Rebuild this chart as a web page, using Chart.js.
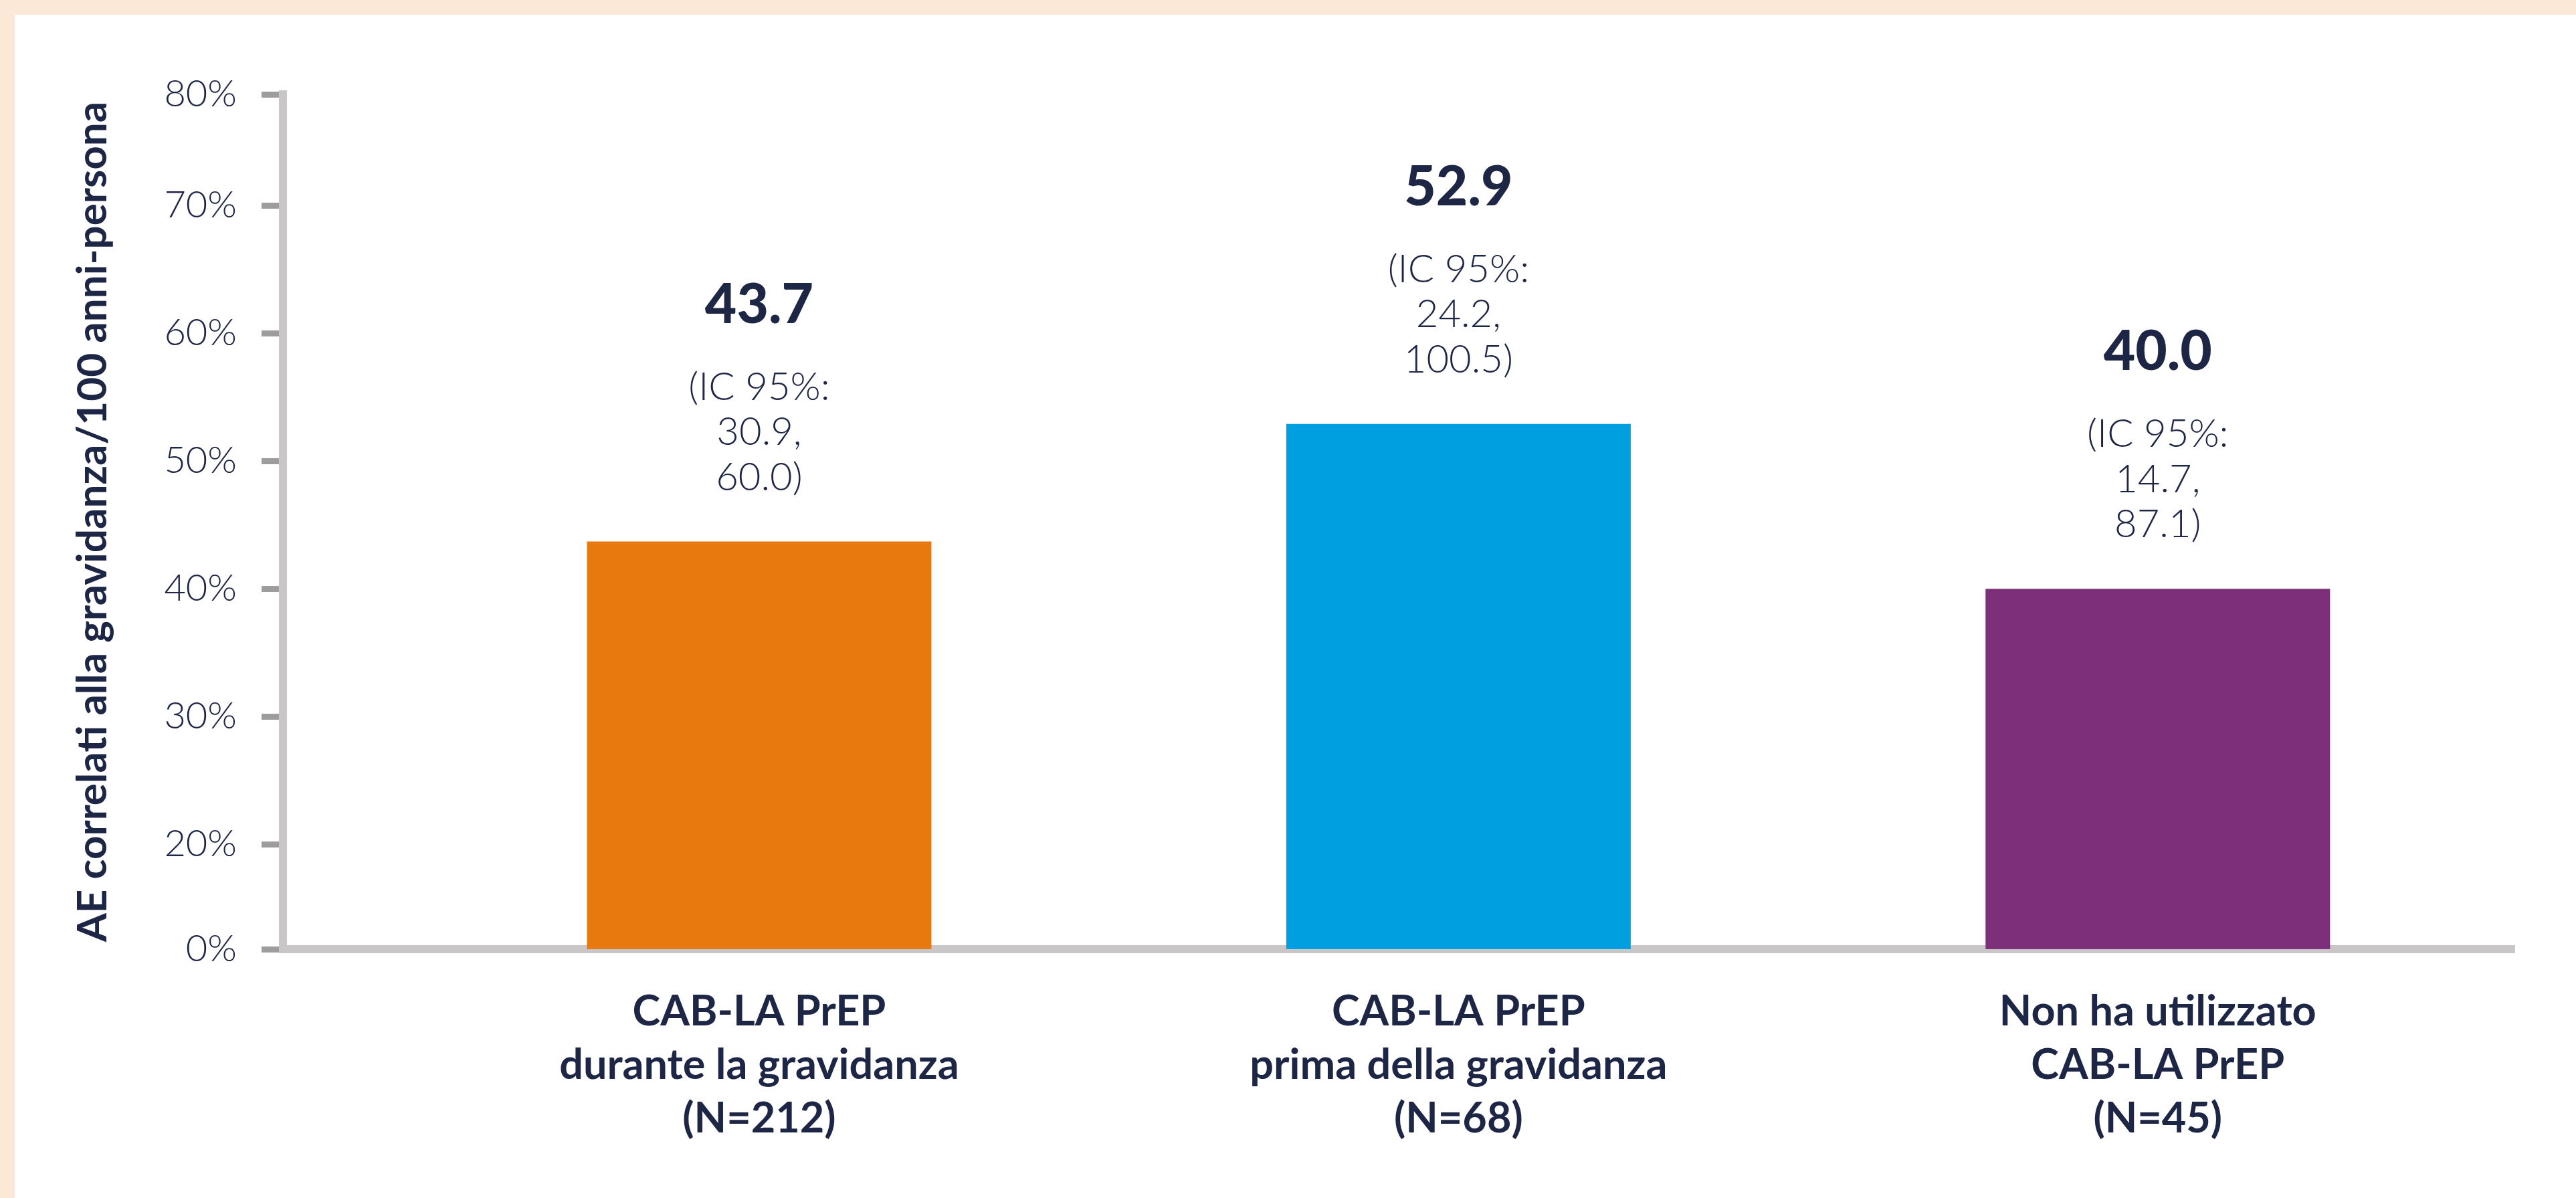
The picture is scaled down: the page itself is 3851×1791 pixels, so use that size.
<!DOCTYPE html>
<html><head><meta charset="utf-8">
<script src="https://cdn.jsdelivr.net/npm/chart.js@4.4.1/dist/chart.umd.min.js"></script>
<style>html,body{margin:0;padding:0;background:#FCE8D6;overflow:hidden}canvas{display:block}</style>
</head><body>
<canvas id="c" width="3851" height="1791" style="width:3851px;height:1791px"></canvas>
<script>
// ---- data ----
const categories = [
  ['CAB-LA PrEP', 'durante la gravidanza', '(N=212)'],
  ['CAB-LA PrEP', 'prima della gravidanza', '(N=68)'],
  ['Non ha utilizzato', 'CAB-LA PrEP', '(N=45)']
];
const rates = [43.7, 52.9, 40.0];
const ciLow = [30.9, 24.2, 14.7];
const ciHigh = [60.0, 100.5, 87.1];
const barColors = ['#E8790F', '#009FE0', '#7D3079'];
const yTickLabels = ['0%', '20%', '30%', '40%', '50%', '60%', '70%', '80%'];
// axis values at which the reference (non-uniform, broken) axis places each tick label
const yTickValues = [11.8, 20, 30, 40, 50, 60, 70, 78.7];
const yTitle = 'AE correlati alla gravidanza/100 anni-persona';
const ciPrefix = '(IC 95%:';

const NAVY = '#1E2646';

const bgPlugin = {
  id: 'bg',
  beforeDraw(chart) {
    const c = chart.ctx, w = chart.width, h = chart.height;
    c.save();
    c.fillStyle = '#FCE8D6';
    c.fillRect(0, 0, w, h);
    c.fillStyle = '#FFFFFF';
    c.fillRect(22, 22, w - 22, h - 22);
    c.restore();
  }
};

const labelPlugin = {
  id: 'barLabels',
  afterDatasetsDraw(chart) {
    const c = chart.ctx;
    const meta = chart.getDatasetMeta(0);
    meta.data.forEach((bar, i) => {
      const x = bar.x, top = bar.y;
      c.save();
      c.fillStyle = NAVY;
      c.textAlign = 'center';
      c.textBaseline = 'alphabetic';
      c.font = '900 82px Lato';
      c.fillText(rates[i].toFixed(1), x, top - 327);
      c.font = '300 58px Lato';
      const lines = [ciPrefix, ciLow[i].toFixed(1) + ',', ciHigh[i].toFixed(1) + ')'];
      lines.forEach((t, k) => c.fillText(t, x, top - 212 + k * 67.5));
      c.restore();
    });
  }
};

function build() {
  new Chart(document.getElementById('c'), {
    type: 'bar',
    data: {
      datasets: [{
        data: rates.map((v, i) => ({ x: i, y: v })),
        backgroundColor: barColors,
        borderWidth: 0,
        barPercentage: 0.4926,
        categoryPercentage: 1
      }]
    },
    options: {
      responsive: false,
      devicePixelRatio: 1,
      animation: false,
      layout: { padding: { left: 22, top: 141, right: 91, bottom: 0 } },
      plugins: { legend: { display: false }, tooltip: { enabled: false } },
      scales: {
        x: {
          type: 'linear', min: -0.681, max: 2.511, offset: false, z: 1,
          afterBuildTicks: s => { s.ticks = categories.map((c, i) => ({ value: i })); },
          afterFit: s => { s.height = 372; },
          grid: { display: true, offset: false, drawOnChartArea: false, drawTicks: false, lineWidth: 0 },
          border: { display: true, color: '#C8C6C6', width: 12 },
          ticks: {
            callback: v => categories[v],
            autoSkip: false, maxRotation: 0, minRotation: 0, padding: 54,
            color: NAVY,
            font: { family: 'Lato', weight: 'bold', size: 63, lineHeight: 80 / 63 }
          }
        },
        y: {
          type: 'linear', min: 11.8, max: 78.7, z: 1,
          afterBuildTicks: s => { s.ticks = yTickValues.map(v => ({ value: v })); },
          afterFit: s => { s.width = 401; },
          grid: { display: true, drawOnChartArea: false, drawTicks: true, tickLength: 32, tickWidth: 9, tickColor: '#9D9D9D', lineWidth: 9 },
          border: { display: true, color: '#C8C6C6', width: 12 },
          ticks: {
            callback: (v, idx) => yTickLabels[idx],
            padding: 37, color: NAVY,
            font: { family: 'Lato', weight: '300', size: 56 }
          },
          title: {
            display: true, text: yTitle, color: NAVY,
            font: { family: 'Lato', weight: 'bold', size: 62 },
            padding: { top: 80, bottom: 0 }
          }
        }
      }
    },
    plugins: [bgPlugin, labelPlugin]
  });
}

Promise.all([
  document.fonts.load('300 56px Lato'),
  document.fonts.load('bold 56px Lato'),
  document.fonts.load('900 80px Lato')
]).then(build, build);
</script>
</body></html>
